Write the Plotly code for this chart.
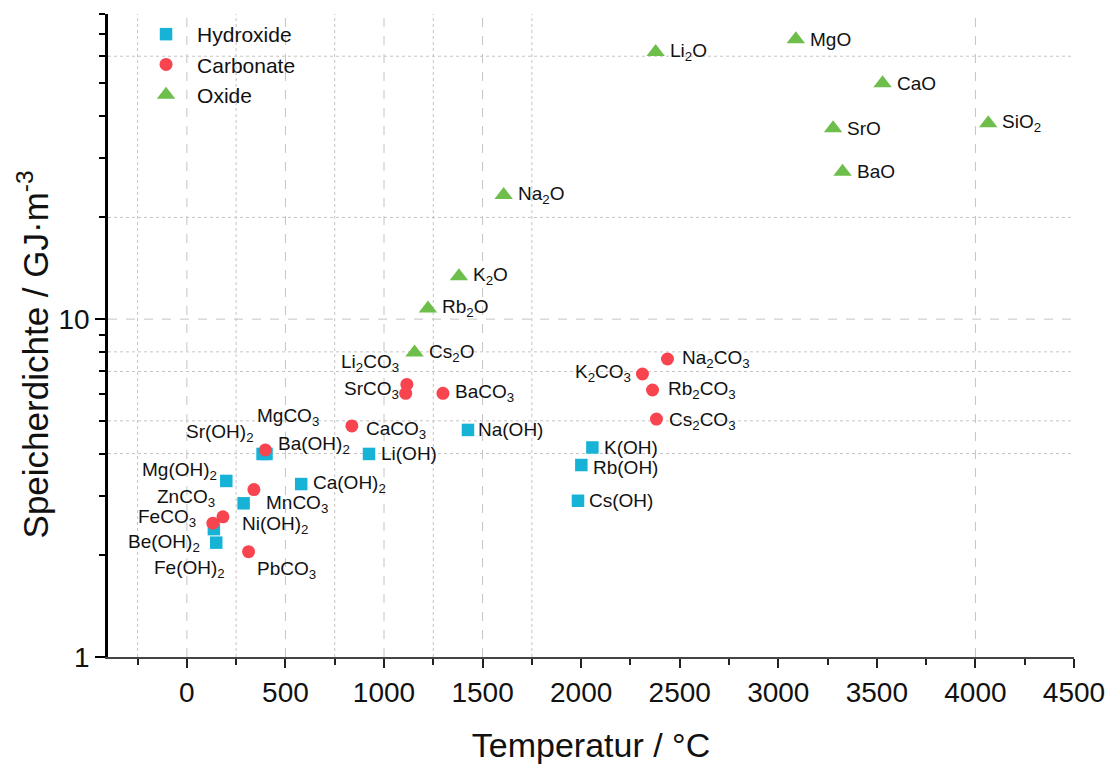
import numpy as np
import plotly.graph_objects as go

# ---- data: reaction temperature (°C) and storage density (GJ/m³) ----
hyd_names = ["Na(OH)", "Li(OH)", "K(OH)", "Rb(OH)", "Cs(OH)", "Mg(OH)<sub>2</sub>",
             "Sr(OH)<sub>2</sub>", "Ba(OH)<sub>2</sub>", "Ca(OH)<sub>2</sub>",
             "Ni(OH)<sub>2</sub>", "Be(OH)<sub>2</sub>", "Fe(OH)<sub>2</sub>"]
hyd_temp = [1426, 924, 2057, 2001, 1984, 200, 384, 404, 580, 288, 137, 149]
hyd_dens = [4.70, 3.99, 4.17, 3.70, 2.90, 3.32, 3.99, 3.99, 3.25, 2.85, 2.39, 2.18]

carb_names = ["Na<sub>2</sub>CO<sub>3</sub>", "K<sub>2</sub>CO<sub>3</sub>", "Rb<sub>2</sub>CO<sub>3</sub>",
              "Cs<sub>2</sub>CO<sub>3</sub>", "Li<sub>2</sub>CO<sub>3</sub>", "SrCO<sub>3</sub>",
              "BaCO<sub>3</sub>", "CaCO<sub>3</sub>", "MgCO<sub>3</sub>", "MnCO<sub>3</sub>",
              "ZnCO<sub>3</sub>", "FeCO<sub>3</sub>", "PbCO<sub>3</sub>"]
carb_temp = [2438, 2311, 2362, 2382, 1116, 1110, 1299, 837, 398, 340, 183, 132, 313]
carb_dens = [7.62, 6.88, 6.17, 5.06, 6.41, 6.03, 6.03, 4.83, 4.10, 3.13, 2.60, 2.49, 2.05]

ox_names = ["Li<sub>2</sub>O", "MgO", "CaO", "SrO", "BaO", "SiO<sub>2</sub>",
            "Na<sub>2</sub>O", "K<sub>2</sub>O", "Rb<sub>2</sub>O", "Cs<sub>2</sub>O"]
ox_temp = [2378, 3089, 3529, 3278, 3326, 4065, 1607, 1380, 1223, 1155]
ox_dens = [61.7, 67.3, 49.9, 36.7, 27.3, 38.0, 23.3, 13.4, 10.76, 7.96]

x_major = [0, 500, 1000, 1500, 2000, 2500, 3000, 3500, 4000, 4500]
x_minor = [-250, 250, 750, 1250, 1750, 2250, 2750, 3250, 3750, 4250]
y_major = [1, 10]
y_minor = [2, 3, 4, 5, 6, 7, 8, 9, 20, 30, 40, 50, 60, 70, 80]

# grid lines that are drawn in the plot area
vgrid_dash = [0, 500, 1000, 1500, 4000]
vgrid_dot = [-250, 250, 750, 1250, 1750]
hgrid_dash = [10]
hgrid_dot = [4, 5, 7, 8, 20, 60]

# label placement: (anchor, x shift px, y shift px)
label_pos = {
    "Na(OH)": ("left", 8, 0), "Li(OH)": ("left", 10, 0), "K(OH)": ("left", 10, 0),
    "Rb(OH)": ("left", 10, -2), "Cs(OH)": ("left", 9, 0),
    "Mg(OH)<sub>2</sub>": ("right", -7, 10), "Sr(OH)<sub>2</sub>": ("right", -7, 21),
    "Ba(OH)<sub>2</sub>": ("left", 9, 9), "Ca(OH)<sub>2</sub>": ("left", 10, 0),
    "Ni(OH)<sub>2</sub>": ("left", -4, -22), "Be(OH)<sub>2</sub>": ("right", -12, -14),
    "Fe(OH)<sub>2</sub>": ("right", 11, -26),
    "Na<sub>2</sub>CO<sub>3</sub>": ("left", 13, 0), "K<sub>2</sub>CO<sub>3</sub>": ("right", -9, 1),
    "Rb<sub>2</sub>CO<sub>3</sub>": ("left", 13, 0), "Cs<sub>2</sub>CO<sub>3</sub>": ("left", 11, -2),
    "Li<sub>2</sub>CO<sub>3</sub>": ("right", -6, 21), "SrCO<sub>3</sub>": ("right", -5, 3),
    "BaCO<sub>3</sub>": ("left", 10, 0), "CaCO<sub>3</sub>": ("left", 12, -4),
    "MgCO<sub>3</sub>": ("left", -10, 33), "MnCO<sub>3</sub>": ("left", 10, -14),
    "ZnCO<sub>3</sub>": ("right", -6, 19), "FeCO<sub>3</sub>": ("right", -15, 5),
    "PbCO<sub>3</sub>": ("left", 6, -18),
}

FONT = "Liberation Sans, Arial, sans-serif"
C_HYD = "#17B3D6"
C_CARB = "#F8444F"
C_OX = "#6DBE4B"

fig = go.Figure()
fig.add_trace(go.Scatter(x=hyd_temp, y=hyd_dens, mode="markers", name="Hydroxide",
                         marker=dict(symbol="square", size=12.5, color=C_HYD)))
fig.add_trace(go.Scatter(x=carb_temp, y=carb_dens, mode="markers", name="Carbonate",
                         marker=dict(symbol="circle", size=13, color=C_CARB)))
fig.add_trace(go.Scatter(x=ox_temp, y=ox_dens, mode="markers", name="Oxide",
                         marker=dict(symbol="triangle-up", size=16, color=C_OX)))

annotations = []
for names, xs, ys in [(hyd_names, hyd_temp, hyd_dens),
                      (carb_names, carb_temp, carb_dens),
                      (ox_names, ox_temp, ox_dens)]:
    for n, xv, yv in zip(names, xs, ys):
        anchor, dx, dy = label_pos.get(n, ("left", 12, 0))
        annotations.append(dict(x=xv, y=np.log10(yv), xref="x", yref="y", text=n,
                                showarrow=False, xanchor=anchor, yanchor="middle",
                                xshift=dx, yshift=dy,
                                font=dict(family=FONT, size=19, color="#111111")))

# y-axis title, set slightly below the middle of the axis
annotations.append(dict(x=-0.078, y=0.47, xref="paper", yref="paper",
                        text="Speicherdichte / GJ·m<sup>-3</sup>", textangle=-90,
                        showarrow=False, xanchor="center", yanchor="middle",
                        font=dict(family=FONT, size=35, color="#111111")))

shapes = []
grid_col = "#C4C4C4"
for xv in vgrid_dash + vgrid_dot:
    shapes.append(dict(type="line", xref="x", yref="paper", x0=xv, x1=xv, y0=0, y1=1,
                       layer="below",
                       line=dict(color=grid_col, width=1,
                                 dash="dash" if xv in vgrid_dash else "dot")))
for yv in hgrid_dash + hgrid_dot:
    shapes.append(dict(type="line", xref="paper", yref="y", x0=0, x1=1, y0=yv, y1=yv,
                       layer="below",
                       line=dict(color=grid_col, width=1,
                                 dash="dash" if yv in hgrid_dash else "dot")))

fig.update_layout(
    width=1118, height=764,
    margin=dict(l=108, r=44, t=14, b=107),
    paper_bgcolor="white", plot_bgcolor="white",
    font=dict(family=FONT, color="#111111"),
    showlegend=True,
    legend=dict(x=0.028, y=1.0, xanchor="left", yanchor="top", itemwidth=52,
                font=dict(family=FONT, size=21, color="#111111"),
                bgcolor="rgba(0,0,0,0)", tracegroupgap=0),
    annotations=annotations,
    shapes=shapes,
    xaxis=dict(range=[-400, 4500], showgrid=False, zeroline=False, automargin=False,
               showline=True, linecolor="#444444", linewidth=2,
               ticks="outside", tickmode="array", tickvals=x_major,
               ticktext=[str(v) for v in x_major],
               ticklen=9, tickwidth=2, tickcolor="#222222",
               tickfont=dict(family=FONT, size=28, color="#111111"),
               minor=dict(tickmode="array", tickvals=x_minor, ticks="outside",
                          ticklen=6, tickwidth=2, tickcolor="#222222", showgrid=False),
               title=dict(text="Temperatur / °C", standoff=28,
                          font=dict(family=FONT, size=34, color="#111111"))),
    yaxis=dict(type="log", range=[0, np.log10(80)], showgrid=False, zeroline=False,
               automargin=False,
               showline=True, linecolor="#000000", linewidth=2.5,
               ticks="outside", tickmode="array", tickvals=y_major,
               ticktext=[str(v) for v in y_major],
               ticklen=10, tickwidth=2, tickcolor="#000000",
               tickfont=dict(family=FONT, size=28, color="#111111"),
               minor=dict(tickmode="array", tickvals=y_minor, ticks="outside",
                          ticklen=6, tickwidth=2, tickcolor="#000000", showgrid=False)),
)

fig.write_html("out.html")
